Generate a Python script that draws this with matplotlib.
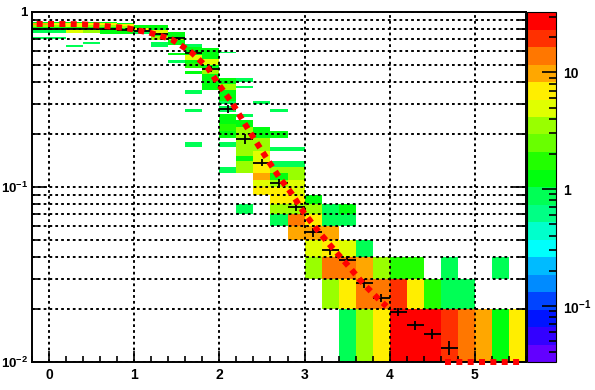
import colorsys
import numpy as np
import matplotlib
matplotlib.use("Agg")
import matplotlib.pyplot as plt
from matplotlib.colors import ListedColormap, LogNorm
from matplotlib.ticker import FixedLocator, FixedFormatter, LogLocator, MultipleLocator, NullFormatter

plt.rcParams["font.family"] = ["Liberation Sans", "DejaVu Sans"]
plt.rcParams["font.weight"] = "bold"
plt.rcParams["mathtext.fontset"] = "custom"
plt.rcParams["mathtext.rm"] = "Liberation Sans:bold"
plt.rcParams["mathtext.it"] = "Liberation Sans:bold"
plt.rcParams["mathtext.bf"] = "Liberation Sans:bold"

OUTPUT = "out.png"

# 2D histogram cells: x bin lower edge, y range (linear 0.01 bins), content
cell_x = [
    -0.2, -0.2, -0.2, -0.2, -0.2, -0.2,
    0.0, 0.0, 0.0, 0.0, 0.0, 0.0,
    0.2, 0.2, 0.2, 0.2, 0.2, 0.2,
    0.4, 0.4, 0.4, 0.4, 0.4, 0.4,
    0.6, 0.6, 0.6, 0.6, 0.6,
    0.8, 0.8, 0.8, 0.8, 0.8,
    1.0, 1.0, 1.0,
    1.2, 1.2, 1.2, 1.2, 1.2,
    1.4, 1.4, 1.4, 1.4, 1.4,
    1.6, 1.6, 1.6, 1.6, 1.6, 1.6, 1.6, 1.6, 1.6,
    1.8, 1.8, 1.8, 1.8, 1.8,
    2.0, 2.0, 2.0, 2.0, 2.0, 2.0, 2.0, 2.0, 2.0, 2.0, 2.0,
    2.2, 2.2, 2.2, 2.2, 2.2, 2.2, 2.2, 2.2,
    2.4, 2.4, 2.4, 2.4, 2.4, 2.4, 2.4, 2.4,
    2.6, 2.6, 2.6, 2.6, 2.6, 2.6, 2.6, 2.6, 2.6, 2.6, 2.6,
    2.8, 2.8, 2.8, 2.8, 2.8, 2.8, 2.8, 2.8, 2.8,
    3.0, 3.0, 3.0, 3.0, 3.0, 3.0,
    3.2, 3.2, 3.2, 3.2, 3.2, 3.2,
    3.4, 3.4, 3.4, 3.4, 3.4, 3.4,
    3.6, 3.6, 3.6, 3.6,
    3.8, 3.8, 3.8,
    4.0, 4.0, 4.0,
    4.2, 4.2, 4.2,
    4.4, 4.4,
    4.6, 4.6, 4.6,
    4.8, 4.8,
    5.0,
    5.2, 5.2,
    5.4,
]
cell_lo = [
    0.86, 0.84, 0.82, 0.80, 0.76, 0.70,
    0.86, 0.84, 0.82, 0.80, 0.76, 0.70,
    0.86, 0.84, 0.82, 0.80, 0.76, 0.63,
    0.86, 0.84, 0.82, 0.80, 0.76, 0.66,
    0.86, 0.84, 0.82, 0.80, 0.75,
    0.85, 0.83, 0.81, 0.79, 0.75,
    0.81, 0.79, 0.75,
    0.79, 0.76, 0.73, 0.69, 0.63,
    0.71, 0.69, 0.65, 0.57, 0.51,
    0.63, 0.57, 0.53, 0.51, 0.48, 0.44, 0.34, 0.27, 0.17,
    0.54, 0.50, 0.48, 0.44, 0.36,
    0.58, 0.39, 0.36, 0.31, 0.30, 0.27, 0.23, 0.21, 0.19, 0.17, 0.12,
    0.40, 0.37, 0.25, 0.22, 0.15, 0.14, 0.12, 0.07,
    0.30, 0.19, 0.16, 0.14, 0.12, 0.11, 0.10, 0.09,
    0.27, 0.19, 0.16, 0.13, 0.12, 0.11, 0.10, 0.09, 0.08, 0.07, 0.06,
    0.16, 0.13, 0.11, 0.10, 0.09, 0.08, 0.07, 0.06, 0.05,
    0.08, 0.07, 0.06, 0.05, 0.04, 0.03,
    0.07, 0.06, 0.05, 0.04, 0.03, 0.02,
    0.07, 0.06, 0.04, 0.03, 0.02, 0.01,
    0.04, 0.03, 0.02, 0.01,
    0.03, 0.02, 0.01,
    0.03, 0.02, 0.01,
    0.03, 0.02, 0.01,
    0.02, 0.01,
    0.03, 0.02, 0.01,
    0.02, 0.01,
    0.01,
    0.03, 0.01,
    0.01,
]
cell_hi = [
    0.88, 0.86, 0.84, 0.82, 0.80, 0.72,
    0.88, 0.86, 0.84, 0.82, 0.80, 0.72,
    0.88, 0.86, 0.84, 0.82, 0.79, 0.65,
    0.88, 0.86, 0.84, 0.82, 0.79, 0.67,
    0.88, 0.86, 0.84, 0.82, 0.80,
    0.87, 0.85, 0.83, 0.81, 0.79,
    0.84, 0.81, 0.79,
    0.84, 0.79, 0.76, 0.73, 0.67,
    0.77, 0.71, 0.69, 0.58, 0.53,
    0.66, 0.63, 0.57, 0.53, 0.51, 0.46, 0.36, 0.28, 0.18,
    0.62, 0.54, 0.50, 0.48, 0.44,
    0.59, 0.42, 0.39, 0.36, 0.31, 0.29, 0.26, 0.23, 0.21, 0.18, 0.13,
    0.42, 0.38, 0.26, 0.24, 0.22, 0.15, 0.14, 0.08,
    0.31, 0.22, 0.19, 0.16, 0.14, 0.12, 0.11, 0.10,
    0.28, 0.21, 0.17, 0.14, 0.13, 0.12, 0.11, 0.10, 0.09, 0.08, 0.07,
    0.17, 0.14, 0.13, 0.11, 0.10, 0.09, 0.08, 0.07, 0.06,
    0.09, 0.08, 0.07, 0.06, 0.05, 0.04,
    0.08, 0.07, 0.06, 0.05, 0.04, 0.03,
    0.08, 0.07, 0.05, 0.04, 0.03, 0.02,
    0.05, 0.04, 0.03, 0.02,
    0.04, 0.03, 0.02,
    0.04, 0.03, 0.02,
    0.04, 0.03, 0.02,
    0.03, 0.02,
    0.04, 0.03, 0.02,
    0.03, 0.02,
    0.02,
    0.04, 0.02,
    0.02,
]
cell_z = [
    1.2, 10, 3.5, 1.2, 0.9, 0.9,
    1.2, 7, 3.5, 1.2, 0.9, 0.9,
    1.2, 7, 5, 1.2, 5, 0.9,
    1.2, 7, 3.5, 1.2, 3.5, 0.9,
    1.2, 7, 3.5, 1.2, 1.2,
    1.2, 7, 3.5, 1.2, 1.2,
    1.2, 7, 0.9,
    1.2, 5, 1.2, 3.5, 0.9,
    1.2, 3.5, 1.2, 1.2, 0.9,
    0.9, 1.2, 5, 1.2, 1.8, 1.2, 0.9, 0.9, 0.9,
    1.2, 5, 1.2, 3.5, 1.2,
    0.9, 1.2, 3.5, 1.2, 0.9, 0.9, 1.2, 1.8, 1.2, 0.9, 0.9,
    0.9, 0.9, 0.9, 1.2, 3.5, 1.2, 3.5, 0.9,
    0.9, 1.2, 3.5, 5, 7, 10, 5, 7,
    0.9, 1.2, 0.9, 0.9, 3.5, 1.2, 3.5, 7, 7, 3.5, 0.9,
    0.9, 0.9, 3.5, 5, 5, 7, 3.5, 14, 10,
    1.2, 3.5, 7, 10, 5, 3.5,
    0.9, 0.9, 10, 7, 14, 3.5,
    1.2, 0.9, 5, 14, 7, 0.9,
    0.9, 10, 14, 3.5,
    3.5, 14, 7,
    1.8, 20, 28,
    1.8, 7, 28,
    1.8, 28,
    0.9, 0.9, 20,
    0.9, 14,
    10,
    0.9, 1.3,
    7,
]

# profile (mean y per x bin)
prof_x = [-0.1, 0.1, 0.3, 0.5, 0.7, 0.9, 1.1, 1.3, 1.5, 1.7, 1.9, 2.1, 2.3,
          2.5, 2.7, 2.9, 3.1, 3.3, 3.5, 3.7, 3.9, 4.1, 4.3, 4.5, 4.7]
prof_y = [0.80, 0.80, 0.80, 0.80, 0.795, 0.79, 0.78, 0.75, 0.71, 0.585, 0.472,
          0.28, 0.188, 0.138, 0.105, 0.077, 0.055, 0.0435, 0.0383, 0.0283,
          0.0233, 0.0194, 0.0162, 0.0145, 0.0121]
prof_err = [0.004, 0.004, 0.004, 0.004, 0.004, 0.004, 0.006, 0.008, 0.01,
            0.015, 0.02, 0.015, 0.012, 0.007, 0.006, 0.004, 0.003, 0.0025,
            0.002, 0.0017, 0.0013, 0.001, 0.0009, 0.0009, 0.0011]

# fitted function (red dotted)
fit_x = [-0.145, 0.118, 0.389, 0.649, 0.92, 1.179, 1.439, 1.663, 1.863, 2.005,
         2.158, 2.30, 2.441, 2.583, 2.70, 2.854, 2.995, 3.16, 3.325, 3.514,
         3.69, 3.868, 3.962]
fit_y = [0.854, 0.854, 0.851, 0.832, 0.807, 0.762, 0.698, 0.593, 0.48, 0.378,
         0.298, 0.229, 0.178, 0.139, 0.114, 0.091, 0.071, 0.056, 0.045, 0.0354,
         0.028, 0.0229, 0.0208]
tail_x = [4.65, 5.58]
tail_y = [0.01, 0.01]

x_edges = np.linspace(-0.2, 5.6, 30)
y_edges = np.linspace(0.01, 1.0, 100)

# ROOT "pretty" palette, 20 contour levels
hues = [263.2, 252, 235.2, 224, 207.2, 196, 179.2, 168, 151.2, 140,
        123.2, 112, 95.2, 84, 67.2, 56, 39.2, 28, 11.2, 0]
cmap = ListedColormap([colorsys.hls_to_rgb(h / 360.0, 0.5, 1.0) for h in hues])


def main():
    H = np.zeros((99, 29))
    for x, lo, hi, z in zip(cell_x, cell_lo, cell_hi, cell_z):
        col = int(round((x + 0.2) / 0.2))
        H[int(round(lo * 100)) - 1:int(round(hi * 100)) - 1, col] = z
    H = np.ma.masked_equal(H, 0)

    fig = plt.figure(figsize=(5.95, 3.90), dpi=100)
    ax = fig.add_axes([32 / 595, 28 / 390, 494 / 595, 350 / 390])
    cax = fig.add_axes([527 / 595, 28 / 390, 29 / 595, 350 / 390])

    ax.set_yscale("log")
    mesh = ax.pcolormesh(x_edges, y_edges, H, cmap=cmap, norm=LogNorm(0.033, 33),
                         shading="flat", edgecolors="none", antialiased=False)

    ax.errorbar(prof_x, prof_y, xerr=0.1, yerr=prof_err, fmt="none",
                ecolor="black", elinewidth=1.3, capsize=0, zorder=3)
    ax.plot(fit_x, fit_y, color="red", lw=4.3, linestyle=(0, (1, 0.9)),
            dash_capstyle="butt", zorder=4)
    ax.plot(tail_x, tail_y, color="red", lw=4.3, linestyle=(0, (1, 0.9)),
            dash_capstyle="butt", zorder=4, clip_on=False)

    ax.set_xlim(-0.2, 5.6)
    ax.set_ylim(0.01, 1.0)

    ax.xaxis.set_major_locator(FixedLocator([0, 1, 2, 3, 4, 5]))
    ax.xaxis.set_minor_locator(MultipleLocator(0.2))
    ax.yaxis.set_major_locator(FixedLocator([0.01, 0.1, 1]))
    ax.yaxis.set_major_formatter(FixedFormatter([r"$10^{-2}$", r"$10^{-1}$", "1"]))
    ax.yaxis.set_minor_locator(LogLocator(base=10, subs=np.arange(2, 10)))
    ax.yaxis.set_minor_formatter(NullFormatter())

    ax.set_axisbelow(False)
    grid_style = dict(color="black", linestyle=(0, (1.4, 1.6)), linewidth=1.4)
    ax.grid(True, which="major", axis="x", **grid_style)
    ax.grid(True, which="both", axis="y", **grid_style)

    ax.tick_params(which="both", direction="in", right=True, top=False,
                   labelsize=10, width=1.2)
    ax.tick_params(axis="x", which="major", length=8, pad=4.5)
    ax.tick_params(axis="x", which="minor", length=4)
    ax.tick_params(axis="y", which="major", length=11, pad=3)
    ax.tick_params(axis="y", which="minor", length=5.5)
    for label in ax.get_yticklabels():
        label.set_fontsize(9.5)
    for spine in ax.spines.values():
        spine.set_linewidth(1.4)

    cb = fig.colorbar(mesh, cax=cax)
    cb.outline.set_linewidth(0.8)
    cb.set_ticks([0.1, 1, 10], labels=[r"$10^{-1}$", "1", "10"])
    cb.minorticks_on()
    cax.tick_params(which="both", direction="in", right=True, left=False,
                    labelsize=10, width=1.2, pad=5)
    cax.tick_params(which="major", length=10)
    cax.tick_params(which="minor", length=5)

    fig.savefig(OUTPUT, dpi=100)
    plt.close(fig)


if __name__ == "__main__":
    main()
